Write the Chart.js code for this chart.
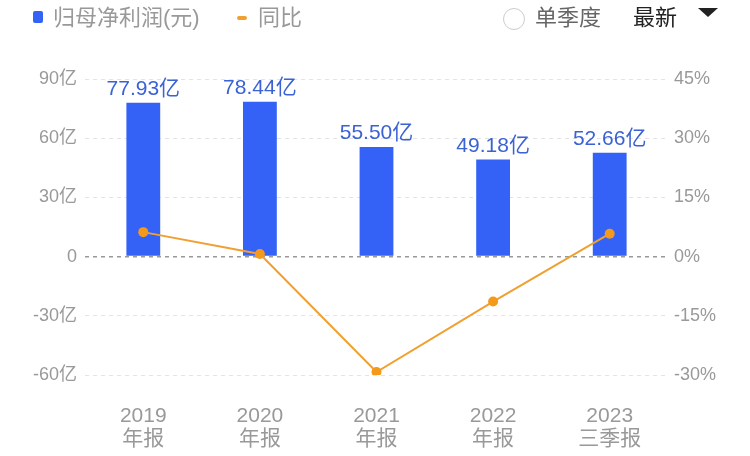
<!DOCTYPE html>
<html lang="zh">
<head>
<meta charset="UTF-8">
<title>归母净利润</title>
<script src="https://cdn.jsdelivr.net/npm/chart.js"></script>
<style>
  html, body { margin: 0; padding: 0; background: #fff; }
  body { width: 750px; height: 456px; position: relative; overflow: hidden;
         font-family: "Liberation Sans", "Noto Sans CJK SC", sans-serif; }
  #chart { position: absolute; left: 0; top: 0; }
  .hd { position: absolute; top: 3px; font-size: 22px; line-height: 30px; color: #999; white-space: nowrap; }
  .sq { position: absolute; left: 33px; top: 11px; width: 10px; height: 12px; background: #3462f6; border-radius: 2px; }
  .dash { position: absolute; left: 237px; top: 16px; width: 10px; height: 4px; background: #f0a030; border-radius: 2px; }
  .circ { position: absolute; left: 503px; top: 8px; width: 22px; height: 22px; border: 1px solid #ccc; border-radius: 50%; box-sizing: border-box; }
  .tri { position: absolute; left: 698px; top: 8px; width: 0; height: 0;
         border-left: 10px solid transparent; border-right: 10px solid transparent; border-top: 9px solid #222; }
</style>
</head>
<body>
<canvas id="chart" width="750" height="456"></canvas>
<div class="sq"></div>
<div class="hd" style="left:53px">归母净利润(元)</div>
<div class="dash"></div>
<div class="hd" style="left:258px">同比</div>
<div class="circ"></div>
<div class="hd" style="left:535px; color:#666">单季度</div>
<div class="hd" style="left:633px; color:#222">最新</div>
<div class="tri"></div>
<script>
const categories = [['2019', '年报'], ['2020', '年报'], ['2021', '年报'], ['2022', '年报'], ['2023', '三季报']];
const profit = [77.93, 78.44, 55.50, 49.18, 52.66];   // 亿元
const yoy = [6.2, 0.65, -29.25, -11.39, 5.8];          // %
const leftTicks = [-60, -30, 0, 30, 60, 90];
const rightTicks = [-30, -15, 0, 15, 30, 45];

const FONT = '"Liberation Sans", "Noto Sans CJK SC", sans-serif';

// value labels above the bars
const barLabels = {
  id: 'barLabels',
  afterDatasetsDraw(chart) {
    const ctx = chart.ctx;
    const meta = chart.getDatasetMeta(1);
    ctx.save();
    ctx.font = '21px ' + FONT;
    ctx.fillStyle = '#3a62d4';
    ctx.textAlign = 'center';
    ctx.textBaseline = 'bottom';
    meta.data.forEach((bar, i) => {
      ctx.fillText(profit[i].toFixed(2) + '亿', bar.x, bar.y - 3);
    });
    ctx.restore();
  }
};

new Chart(document.getElementById('chart'), {
  data: {
    labels: categories,
    datasets: [
      {
        type: 'line',
        data: yoy,
        yAxisID: 'y1',
        borderColor: '#f0a030',
        borderWidth: 2,
        pointRadius: 5,
        pointBackgroundColor: '#f5991b',
        pointBorderWidth: 0,
        tension: 0,
        order: 0
      },
      {
        type: 'bar',
        data: profit,
        yAxisID: 'y',
        backgroundColor: '#3462f6',
        barPercentage: 0.58,
        categoryPercentage: 0.5,
        order: 1
      }
    ]
  },
  options: {
    responsive: false,
    animation: false,
    layout: { padding: { top: 79, bottom: 0, left: 0, right: 0 } },
    plugins: { legend: { display: false }, tooltip: { enabled: false } },
    scales: {
      x: {
        grid: { display: false },
        border: { display: false },
        ticks: { color: '#999', font: { size: 21, family: FONT, lineHeight: 1.1 }, padding: 22, maxRotation: 0 },
        afterFit(s) { s.height = 81; }
      },
      y: {
        position: 'left',
        min: -60, max: 90,
        afterBuildTicks(s) { s.ticks = leftTicks.map(v => ({ value: v })); },
        ticks: {
          color: '#999', font: { size: 18, family: FONT }, padding: 8,
          callback: v => v === 0 ? '0' : v + '亿'
        },
        grid: {
          color: c => c.tick && c.tick.value === 0 ? '#999' : '#e3e3e3',
          lineWidth: c => c.tick && c.tick.value === 0 ? 1.5 : 1,
          drawTicks: false
        },
        border: { display: false, dash: [4, 4] },
        afterFit(s) { s.width = 85; }
      },
      y1: {
        position: 'right',
        min: -30, max: 45,
        afterBuildTicks(s) { s.ticks = rightTicks.map(v => ({ value: v })); },
        ticks: {
          color: '#999', font: { size: 18, family: FONT }, padding: 6,
          callback: v => v + '%'
        },
        grid: { display: false, drawTicks: false },
        border: { display: false },
        afterFit(s) { s.width = 82; }
      }
    }
  },
  plugins: [barLabels]
});
</script>
</body>
</html>
